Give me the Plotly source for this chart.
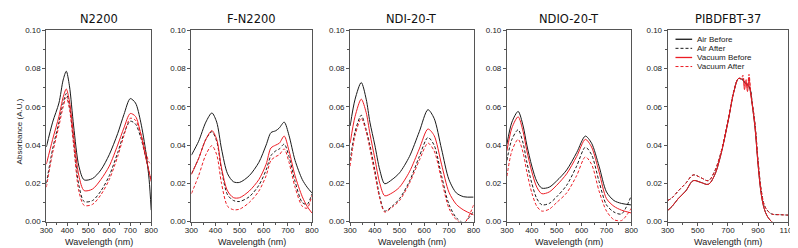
import plotly.graph_objects as go

# ---------------- data ----------------
titles = ["N2200", "F-N2200", "NDI-20-T", "NDIO-20-T", "PIBDFBT-37"]
series_names = ["Air Before", "Air After", "Vacuum Before", "Vacuum After"]

# N2200
wl_1 = [300, 330, 360, 380, 395, 410, 430, 455, 480, 520, 560, 600, 640, 670, 700, 725, 750, 775, 790, 800]
n2200_air_before = [0.039, 0.052, 0.062, 0.074, 0.0786, 0.071, 0.050, 0.029, 0.0218, 0.0225, 0.027, 0.035, 0.046, 0.056, 0.0643, 0.062, 0.052, 0.036, 0.022, 0.006]
n2200_air_after = [0.020, 0.038, 0.052, 0.062, 0.067, 0.061, 0.042, 0.019, 0.0105, 0.011, 0.016, 0.024, 0.036, 0.046, 0.0525, 0.051, 0.044, 0.033, 0.026, 0.021]
n2200_vac_before = [0.030, 0.043, 0.055, 0.065, 0.0693, 0.063, 0.045, 0.024, 0.0162, 0.017, 0.022, 0.029, 0.040, 0.049, 0.0565, 0.055, 0.046, 0.033, 0.026, 0.021]
n2200_vac_after = [0.018, 0.036, 0.050, 0.060, 0.065, 0.059, 0.040, 0.016, 0.0085, 0.009, 0.014, 0.022, 0.034, 0.045, 0.054, 0.053, 0.046, 0.036, 0.031, 0.030]

# F-N2200
wl_2 = [300, 330, 360, 385, 405, 425, 450, 475, 500, 540, 580, 610, 630, 650, 665, 685, 705, 730, 760, 780, 800]
fn2200_air_before = [0.0347, 0.042, 0.052, 0.0568, 0.052, 0.038, 0.025, 0.0208, 0.0205, 0.024, 0.031, 0.040, 0.0465, 0.0475, 0.049, 0.052, 0.045, 0.032, 0.022, 0.018, 0.015]
fn2200_air_after = [0.025, 0.033, 0.043, 0.047, 0.042, 0.027, 0.014, 0.011, 0.0105, 0.013, 0.019, 0.027, 0.0345, 0.037, 0.038, 0.0405, 0.034, 0.021, 0.010, 0.009, 0.0145]
fn2200_vac_before = [0.0246, 0.033, 0.043, 0.0476, 0.043, 0.028, 0.016, 0.0125, 0.0125, 0.016, 0.022, 0.030, 0.0385, 0.040, 0.041, 0.0447, 0.037, 0.024, 0.013, 0.008, 0.0045]
fn2200_vac_after = [0.0146, 0.024, 0.035, 0.0397, 0.035, 0.020, 0.008, 0.0062, 0.0065, 0.010, 0.016, 0.024, 0.032, 0.034, 0.035, 0.038, 0.031, 0.018, 0.008, 0.007, 0.0137]

# NDI-20-T
wl_3 = [300, 320, 345, 365, 380, 400, 420, 440, 470, 500, 540, 580, 615, 640, 670, 700, 730, 760, 800]
ndi_air_before = [0.050, 0.064, 0.0727, 0.064, 0.052, 0.040, 0.027, 0.0198, 0.022, 0.0255, 0.034, 0.047, 0.0585, 0.054, 0.038, 0.022, 0.015, 0.013, 0.0128]
ndi_air_after = [0.032, 0.047, 0.0556, 0.048, 0.040, 0.027, 0.013, 0.0055, 0.008, 0.012, 0.021, 0.034, 0.044, 0.040, 0.024, 0.009, 0.002, -0.0005, 0.0055]
ndi_vac_before = [0.041, 0.055, 0.064, 0.057, 0.046, 0.033, 0.020, 0.0135, 0.015, 0.018, 0.026, 0.038, 0.0484, 0.045, 0.030, 0.0154, 0.009, 0.006, 0.0035]
ndi_vac_after = [0.029, 0.045, 0.054, 0.047, 0.038, 0.025, 0.012, 0.005, 0.0075, 0.011, 0.020, 0.032, 0.041, 0.037, 0.022, 0.007, 0.001, -0.001, 0.0087]

# NDIO-20-T
wl_4 = [300, 320, 345, 365, 380, 400, 420, 440, 470, 500, 540, 580, 615, 640, 670, 700, 730, 760, 800]
ndio_air_before = [0.0405, 0.052, 0.0576, 0.050, 0.040, 0.029, 0.021, 0.0175, 0.018, 0.0213, 0.027, 0.036, 0.0447, 0.041, 0.029, 0.0155, 0.011, 0.0095, 0.0087]
ndio_air_after = [0.032, 0.043, 0.048, 0.041, 0.031, 0.020, 0.012, 0.0088, 0.0095, 0.013, 0.019, 0.029, 0.0389, 0.035, 0.021, 0.0087, 0.005, 0.004, 0.0137]
ndio_vac_before = [0.037, 0.049, 0.0548, 0.047, 0.037, 0.026, 0.018, 0.0146, 0.0155, 0.019, 0.025, 0.034, 0.043, 0.039, 0.026, 0.012, 0.008, 0.006, 0.0045]
ndio_vac_after = [0.0238, 0.037, 0.043, 0.036, 0.026, 0.015, 0.008, 0.0055, 0.0065, 0.010, 0.015, 0.024, 0.0338, 0.030, 0.016, 0.0055, 0.001, 0.0005, 0.007]

# PIBDFBT-37
wl_5_before = [300, 330, 370, 420, 470, 520, 570, 610, 650, 700, 740, 770, 790, 800, 810, 820, 830, 840, 850, 860, 880, 900, 920, 940, 960, 990, 1010]
wl_5_after = [300, 330, 370, 420, 470, 520, 570, 610, 650, 700, 740, 770, 790, 800, 810, 820, 830, 840, 850, 860, 880, 900, 920, 940, 960, 990, 1050, 1100]
pib_air_before = [0.0058, 0.008, 0.012, 0.016, 0.0214, 0.0205, 0.0195, 0.024, 0.034, 0.052, 0.068, 0.0748, 0.0745, 0.074, 0.0725, 0.072, 0.0715, 0.0705, 0.068, 0.062, 0.049, 0.030, 0.015, 0.007, 0.003, 0.000, -0.001]
pib_air_after = [0.011, 0.0125, 0.016, 0.020, 0.0244, 0.023, 0.0214, 0.026, 0.035, 0.0525, 0.0685, 0.0748, 0.0745, 0.074, 0.073, 0.0725, 0.072, 0.071, 0.069, 0.063, 0.051, 0.032, 0.017, 0.009, 0.006, 0.004, 0.0036, 0.0034]
pib_vac_before = [0.0058, 0.008, 0.012, 0.016, 0.0214, 0.0205, 0.0195, 0.024, 0.034, 0.052, 0.068, 0.0748, 0.0745, 0.075, 0.069, 0.073, 0.068, 0.0755, 0.067, 0.062, 0.049, 0.030, 0.015, 0.007, 0.003, 0.000, -0.001]
pib_vac_after = [0.011, 0.0125, 0.016, 0.020, 0.0244, 0.023, 0.0214, 0.026, 0.035, 0.0525, 0.0685, 0.0748, 0.075, 0.0765, 0.071, 0.0745, 0.070, 0.077, 0.069, 0.063, 0.051, 0.032, 0.017, 0.009, 0.006, 0.004, 0.0036, 0.0034]

x_ranges = [[300, 800], [300, 800], [300, 800], [300, 800], [300, 1100]]
x_dticks = [100, 100, 100, 100, 200]
y_range = [0, 0.10]
y_tickvals = [0.00, 0.02, 0.04, 0.06, 0.08, 0.10]
y_ticktext = ["0.00", "0.02", "0.04", "0.06", "0.08", "0.10"]

panels = [
    ([wl_1] * 4, [n2200_air_before, n2200_air_after, n2200_vac_before, n2200_vac_after]),
    ([wl_2] * 4, [fn2200_air_before, fn2200_air_after, fn2200_vac_before, fn2200_vac_after]),
    ([wl_3] * 4, [ndi_air_before, ndi_air_after, ndi_vac_before, ndi_vac_after]),
    ([wl_4] * 4, [ndio_air_before, ndio_air_after, ndio_vac_before, ndio_vac_after]),
    ([wl_5_before, wl_5_after, wl_5_before, wl_5_after], [pib_air_before, pib_air_after, pib_vac_before, pib_vac_after]),
]

# ---------------- styling ----------------
W, H = 798, 248
BLACK = "#1a1a1a"
RED = "#ec1c24"
styles = [(BLACK, "solid"), (BLACK, "dash"), (RED, "solid"), (RED, "dash")]
panel_px = [(32, 139), (180, 303), (342, 468), (502, 629), (666, 789)]
top_px, bot_px = 19, 217.5
TICK_FONT = dict(family="Liberation Sans, Arial, sans-serif", size=8, color="#222")

fig = go.Figure()
layout = dict(
    width=W, height=H, margin=dict(l=0, r=0, t=0, b=0),
    paper_bgcolor="white", plot_bgcolor="white", showlegend=False,
    annotations=[], shapes=[],
)

for i, (xs_list, ys_list) in enumerate(panels):
    n = i + 1
    xa = "x" if n == 1 else f"x{n}"
    ya = "y" if n == 1 else f"y{n}"
    smooth = 0.8 if i < 4 else 1.0
    for k, (xs, ys) in enumerate(zip(xs_list, ys_list)):
        color, dash = styles[k]
        fig.add_trace(go.Scatter(
            x=xs, y=ys, mode="lines", name=series_names[k], xaxis=xa, yaxis=ya,
            line=dict(color=color, width=1, dash="3px,2px" if dash == "dash" else "solid",
                      shape="spline", smoothing=smooth),
            cliponaxis=True,
        ))
    x0, x1 = panel_px[i]
    axis_common = dict(showline=True, linecolor="#555", linewidth=1, mirror=True,
                       ticks="outside", ticklen=3, tickwidth=1, tickcolor="#555",
                       showgrid=False, zeroline=False, tickfont=TICK_FONT)
    layout[f"xaxis{n if n > 1 else ''}"] = dict(
        domain=[x0 / W, x1 / W], anchor=ya, range=x_ranges[i], dtick=x_dticks[i],
        tick0=300, ticklabelstandoff=-2,
        minor=dict(ticks="outside", ticklen=2, tickcolor="#555", dtick=x_dticks[i] / 2),
        **axis_common)
    layout[f"yaxis{n if n > 1 else ''}"] = dict(
        domain=[1 - bot_px / H, 1 - top_px / H], anchor=xa, range=y_range,
        tickmode="array", tickvals=y_tickvals, ticktext=y_ticktext,
        minor=dict(ticks="outside", ticklen=2, tickcolor="#555", dtick=0.01, tick0=0),
        **axis_common)
    cx = (x0 + x1) / 2 / W
    layout["annotations"].append(dict(
        text=titles[i], x=cx, y=1 - 7 / H, xref="paper", yref="paper",
        showarrow=False, xanchor="center", yanchor="middle",
        font=dict(family="DejaVu Sans, sans-serif", size=11.5, color="#111")))
    layout["annotations"].append(dict(
        text="Wavelength (nm)", x=cx, y=1 - 238.5 / H, xref="paper", yref="paper",
        showarrow=False, xanchor="center", yanchor="middle",
        font=dict(family="Liberation Sans, Arial, sans-serif", size=9, color="#222")))

layout["annotations"].append(dict(
    text="Absorbance (A.U.)", x=5 / W, y=1 - 124 / H, xref="paper", yref="paper",
    showarrow=False, xanchor="center", yanchor="middle", textangle=-90,
    font=dict(family="Liberation Sans, Arial, sans-serif", size=8, color="#222")))

# legend (drawn manually in the last panel)
leg_rows = [28.3, 37.7, 47.2, 56.6]
for k, name in enumerate(series_names):
    color, dash = styles[k]
    yy = 1 - leg_rows[k] / H
    layout["shapes"].append(dict(
        type="line", xref="paper", yref="paper", x0=674 / W, x1=691 / W, y0=yy, y1=yy,
        line=dict(color=color, width=1.3 if dash == "solid" else 1,
                  dash="3px,2px" if dash == "dash" else "solid")))
    layout["annotations"].append(dict(
        text=name, x=693.5 / W, y=yy, xref="paper", yref="paper", showarrow=False,
        xanchor="left", yanchor="middle",
        font=dict(family="Liberation Sans, Arial, sans-serif", size=8, color="#222")))

fig.update_layout(**layout)
fig.write_html("out.html")
